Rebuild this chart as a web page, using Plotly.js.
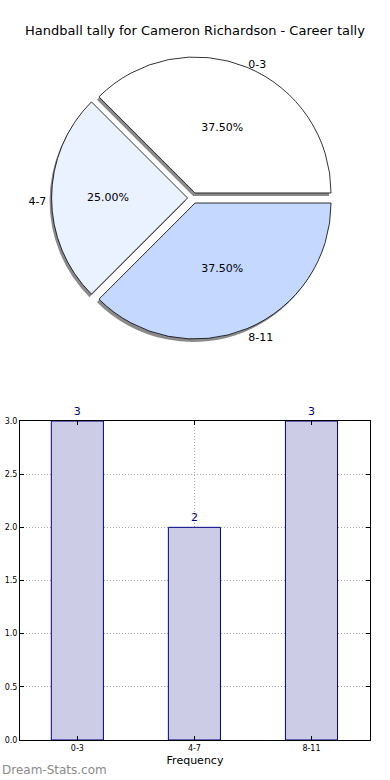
<!DOCTYPE html>
<html><head><meta charset="utf-8">
<script src="https://cdn.plot.ly/plotly-3.0.1.min.js"></script>
<style>html,body{margin:0;padding:0;background:#fff}#chart{width:390px;height:780px}</style>
</head><body><div id="chart"></div>
<script>
const categories = ["0-3", "4-7", "8-11"];
const counts = [3, 2, 3];
const countLabels = ["3", "2", "3"];
const sliceColors = ["#ffffff", "#eaf1ff", "#c5d8ff"];
const shadowColors = ["#8a8a8a", "#8a8a8a", "#8a8a8a"];
const titleText = "Handball tally for Cameron Richardson - Career tally";

const pieX = [0.0903, 0.8983], pieY = [0.5723, 0.9763];
const sdx = -0.0057, sdy = -0.0043;

const shadow = {
  type: "pie", labels: categories, values: counts, sort: false,
  direction: "counterclockwise", rotation: -45,
  pull: [0.04, 0.04, 0.04],
  domain: {x: [pieX[0] + sdx, pieX[1] + sdx], y: [pieY[0] + sdy, pieY[1] + sdy]},
  marker: {colors: shadowColors, line: {color: "#8a8a8a", width: 0}},
  texttemplate: "%{label}", textposition: "outside",
  outsidetextfont: {color: "#000", size: 11, family: "DejaVu Sans"},
  hoverinfo: "skip", showlegend: false, automargin: false
};
const pie = {
  type: "pie", labels: categories, values: counts, sort: false,
  direction: "counterclockwise", rotation: -45,
  pull: [0.04, 0.04, 0.04],
  domain: {x: pieX, y: pieY},
  marker: {colors: sliceColors, line: {color: "#000", width: 0.8}},
  texttemplate: "%{percent:.2%}", textposition: "inside",
  insidetextorientation: "horizontal",
  insidetextfont: {color: "#000", size: 11, family: "DejaVu Sans"},
  hoverinfo: "skip", showlegend: false
};
const bars = {
  type: "bar", x: categories, y: counts, width: 0.445,
  xaxis: "x", yaxis: "y",
  marker: {color: "#ccccE6", line: {color: "#000080", width: 1}},
  text: countLabels, texttemplate: "%{text}", textposition: "outside", cliponaxis: false,
  textfont: {color: "#000080", size: 11, family: "DejaVu Sans"},
  hoverinfo: "skip", showlegend: false
};

const layout = {
  width: 390, height: 780,
  margin: {l: 20, r: 20, t: 40, b: 40},
  paper_bgcolor: "#fff", plot_bgcolor: "#fff",
  font: {family: "DejaVu Sans", color: "#000"},
  title: {text: titleText, font: {size: 13, family: "DejaVu Sans", color: "#000"},
          x: 0.5, xref: "container", y: 1 - 30/780, yref: "container", yanchor: "middle"},
  xaxis: {domain: [0, 1], range: [-0.49, 2.5], type: "category",
          showline: true, mirror: "ticks", linecolor: "#000", linewidth: 1,
          ticks: "inside", ticklen: 4, tickcolor: "#000",
          showgrid: true, gridcolor: "#a8a8a8", griddash: "1px,2px", gridwidth: 1,
          tickfont: {size: 8, family: "DejaVu Sans"}, zeroline: false,
          title: {text: "Frequency", font: {size: 11, family: "DejaVu Sans"}, standoff: 4}},
  yaxis: {domain: [0, 0.4557], range: [0, 3], dtick: 0.5, tickformat: ".1f",
          showline: true, mirror: "ticks", linecolor: "#000", linewidth: 1,
          ticks: "inside", ticklen: 4, tickcolor: "#000",
          showgrid: true, gridcolor: "#a8a8a8", griddash: "1px,2px", gridwidth: 1,
          tickfont: {size: 8, family: "DejaVu Sans"}, zeroline: false},
  annotations: [{text: "Dream-Stats.com", xref: "paper", yref: "paper",
                 x: -20/350, y: -30/700, xanchor: "left", yanchor: "middle", showarrow: false,
                 font: {size: 12, color: "#8a8a8a", family: "DejaVu Sans"}}]
};
Plotly.newPlot("chart", [shadow, pie, bars], layout, {displayModeBar: false, staticPlot: true});
</script></body></html>
